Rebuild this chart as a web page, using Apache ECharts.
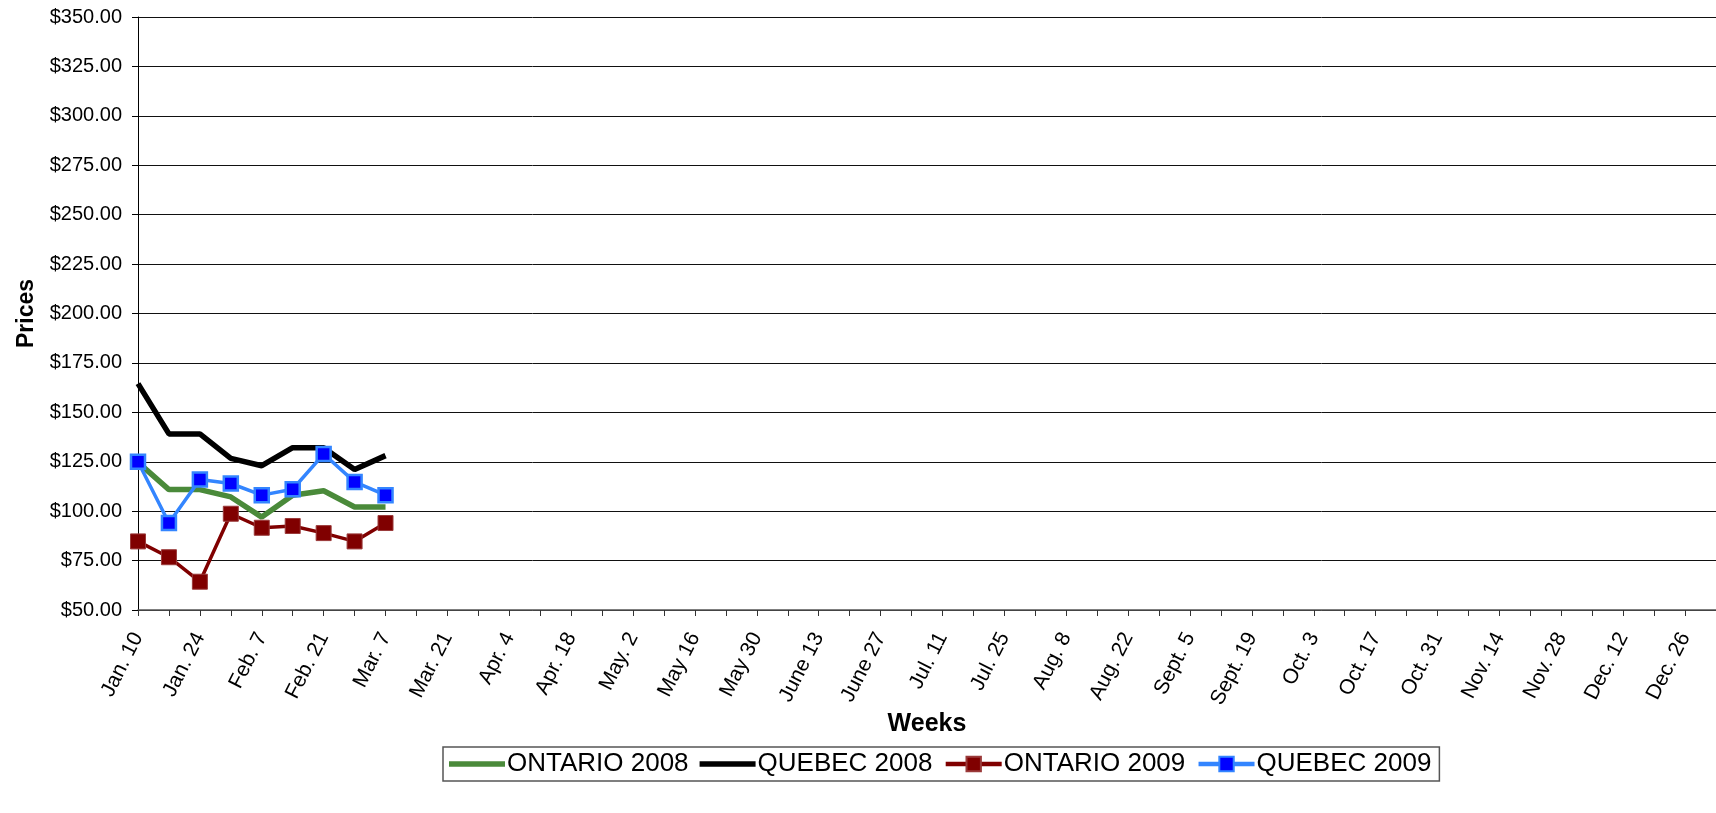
<!DOCTYPE html>
<html>
<head>
<meta charset="utf-8">
<script src="https://cdn.jsdelivr.net/npm/echarts@6/dist/echarts.min.js"></script>
<style>
html,body{margin:0;padding:0;background:#fff;}
#chart{width:1716px;height:813px;}
</style>
</head>
<body>
<div id="chart"></div>
<script>
var weeks = ["Jan. 10","Jan. 17","Jan. 24","Jan. 31","Feb. 7","Feb. 14","Feb. 21","Feb. 28","Mar. 7","Mar. 14",
"Mar. 21","Mar. 28","Apr. 4","Apr. 11","Apr. 18","Apr. 25","May. 2","May 9","May 16","May 23",
"May 30","June 6","June 13","June 20","June 27","Jul. 4","Jul. 11","Jul. 18","Jul. 25","Aug. 1",
"Aug. 8","Aug. 15","Aug. 22","Aug. 29","Sept. 5","Sept. 12","Sept. 19","Sept. 26","Oct. 3","Oct. 10",
"Oct. 17","Oct. 24","Oct. 31","Nov. 7","Nov. 14","Nov. 21","Nov. 28","Dec. 5","Dec. 12","Dec. 19",
"Dec. 26","Jan. 2"];
var ontario2008 = [124.7, 110.9, 110.9, 107.2, 97.0, 108.1, 110.3, 102.1, 102.1];
var quebec2008  = [164.5, 139.1, 139.1, 126.7, 123.0, 132.1, 132.1, 121.1, 128.1];
var ontario2009 = [84.7, 76.7, 64.3, 98.7, 91.6, 92.5, 88.9, 84.7, 94.0];
var quebec2009  = [125.0, 94.0, 116.0, 114.0, 108.1, 111.1, 128.9, 114.8, 108.1];
var yMin = 50, yMax = 350, yStep = 25;

var font = "'Liberation Sans', Arial, sans-serif";
var barIcon = 'path://M0 0H56V5.5H0Z';
var chart = echarts.init(document.getElementById('chart'));
chart.setOption({
  animation: false,
  backgroundColor: '#fff',
  textStyle: {fontFamily: font},
  grid: {left: 138, right: 0, top: 17, bottom: 203},
  legend: {
    left: 443, top: 747,
    padding: [4, 8, 4, 6],
    itemGap: 11,
    itemWidth: 56, itemHeight: 18,
    borderColor: '#555', borderWidth: 1.5,
    backgroundColor: '#fff',
    textStyle: {fontFamily: font, fontSize: 26, color: '#000', padding: [0, 0, 0, -3]},
    data: [
      {name: 'ONTARIO 2008', icon: barIcon, itemStyle: {color: '#4A8A3A'}},
      {name: 'QUEBEC 2008', icon: barIcon, itemStyle: {color: '#000'}},
      {name: 'ONTARIO 2009', lineStyle: {width: 4.5}},
      {name: 'QUEBEC 2009', lineStyle: {width: 4.5}}
    ]
  },
  xAxis: {
    type: 'category',
    data: weeks,
    boundaryGap: false,
    name: 'Weeks',
    nameLocation: 'middle',
    nameGap: 102,
    nameMoveOverlap: false,
    nameTextStyle: {fontSize: 25, fontWeight: 'bold', color: '#000', fontFamily: font},
    axisLine: {lineStyle: {color: '#555', width: 1.5}},
    axisTick: {interval: 0, length: 6, lineStyle: {color: '#333'}},
    axisLabel: {interval: 1, rotate: 63, fontSize: 21, color: '#000', margin: 24, fontFamily: font},
    splitLine: {show: false}
  },
  yAxis: {
    type: 'value',
    min: yMin, max: yMax, interval: yStep,
    name: 'Prices',
    nameLocation: 'middle',
    nameGap: 100,
    nameMoveOverlap: false,
    nameTextStyle: {fontSize: 23, fontWeight: 'bold', color: '#000', fontFamily: font},
    axisLine: {show: true, lineStyle: {color: '#000', width: 1}},
    axisTick: {show: true, length: 6, lineStyle: {color: '#000'}},
    axisLabel: {fontSize: 20, color: '#000', margin: 16, fontFamily: font,
      formatter: function (v) { return '$' + v.toFixed(2); }},
    splitLine: {lineStyle: {color: '#111', width: 1}}
  },
  series: [
    {name: 'ONTARIO 2008', type: 'line', data: ontario2008, symbol: 'none',
      lineStyle: {color: '#4A8A3A', width: 5.5}, itemStyle: {color: '#4A8A3A'}, z: 2},
    {name: 'QUEBEC 2008', type: 'line', data: quebec2008, symbol: 'none',
      lineStyle: {color: '#000', width: 5.5}, itemStyle: {color: '#000'}, z: 2},
    {name: 'ONTARIO 2009', type: 'line', data: ontario2009, symbol: 'rect', symbolSize: 15,
      lineStyle: {color: '#800000', width: 3.5},
      itemStyle: {color: '#800000', borderColor: '#9a3a3a', borderWidth: 1}, z: 3},
    {name: 'QUEBEC 2009', type: 'line', data: quebec2009, symbol: 'rect', symbolSize: 14,
      lineStyle: {color: '#3385FF', width: 3.5},
      itemStyle: {color: '#0000FF', borderColor: '#3385FF', borderWidth: 2.5}, z: 4}
  ]
});
</script>
</body>
</html>
